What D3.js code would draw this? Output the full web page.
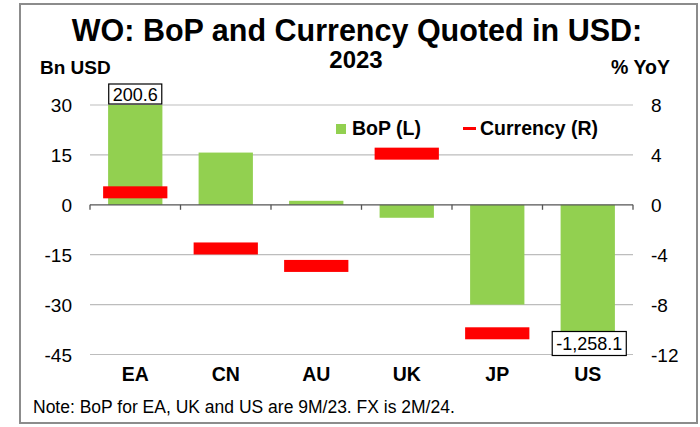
<!DOCTYPE html>
<html>
<head>
<meta charset="utf-8">
<script src="https://cdn.jsdelivr.net/npm/d3@7"></script>
<style>
  body { margin: 0; background: #fff; }
  svg { font-family: "Liberation Sans", Arial, sans-serif; }
</style>
</head>
<body>
<svg width="700" height="427"></svg>
<script>
const categories = ["EA", "CN", "AU", "UK", "JP", "US"]
const bop = [200.6, 15.7, 1.2, -3.9, -30, -1258.1]        // Bn USD (L)
const currency = [1.0, -3.5, -4.9, 4.1, -10.3, null]      // % YoY (R)
const leftTicks = [-45, -30, -15, 0, 15, 30]
const rightTicks = [-12, -8, -4, 0, 4, 8]

const svg = d3.select("svg")

// outer frame
svg.append("rect")
  .attr("x", 20).attr("y", 4)
  .attr("width", 677).attr("height", 419)
  .attr("fill", "none")
  .attr("stroke", "#8c8c8c")
  .attr("stroke-width", 2)

const plot = { left: 90, right: 633, top: 105, bottom: 354.5 }

const x = d3.scaleBand()
  .domain(categories)
  .range([plot.left, plot.right])

const yL = d3.scaleLinear()
  .domain([-45, 30])
  .range([plot.bottom, plot.top])
  .clamp(true) // EA and US are off the scale

const yR = d3.scaleLinear()
  .domain([-12, 8])
  .range([plot.bottom, plot.top])

// gridlines
svg.append("g")
  .selectAll("line")
  .data(leftTicks.filter(d => d !== 0))
  .enter()
  .append("line")
  .attr("x1", plot.left).attr("x2", plot.right)
  .attr("y1", d => yL(d)).attr("y2", d => yL(d))
  .attr("stroke", "#bdbdbd")
  .attr("stroke-width", 1.2)

// left axis labels
svg.append("g")
  .selectAll("text")
  .data(leftTicks)
  .enter()
  .append("text")
  .attr("x", 72)
  .attr("y", d => yL(d) + 7)
  .attr("text-anchor", "end")
  .attr("font-size", 19)
  .text(d => d)

// right axis labels
svg.append("g")
  .selectAll("text")
  .data(rightTicks)
  .enter()
  .append("text")
  .attr("x", 651)
  .attr("y", d => yR(d) + 7)
  .attr("font-size", 19)
  .text(d => d)

// bars
const barW = x.bandwidth() * 0.6
svg.append("g")
  .selectAll("rect")
  .data(bop)
  .enter()
  .append("rect")
  .attr("x", (d, i) => x(categories[i]) + (x.bandwidth() - barW) / 2)
  .attr("y", d => Math.min(yL(d), yL(0)))
  .attr("width", barW)
  .attr("height", d => Math.abs(yL(d) - yL(0)))
  .attr("fill", "#92d050")

// zero axis with ticks at category boundaries
const axisG = svg.append("g")
axisG.append("line")
  .attr("x1", plot.left).attr("x2", plot.right)
  .attr("y1", yL(0)).attr("y2", yL(0))
  .attr("stroke", "#555")
  .attr("stroke-width", 1.3)
axisG.selectAll("line.tick")
  .data(d3.range(categories.length + 1))
  .enter()
  .append("line")
  .attr("class", "tick")
  .attr("x1", i => plot.left + i * x.step())
  .attr("x2", i => plot.left + i * x.step())
  .attr("y1", yL(0)).attr("y2", yL(0) + 5)
  .attr("stroke", "#555")
  .attr("stroke-width", 1.3)

// currency markers
const markW = x.bandwidth() * 0.71
svg.append("g")
  .selectAll("rect")
  .data(currency.map((d, i) => ({ v: d, c: categories[i] })).filter(d => d.v !== null))
  .enter()
  .append("rect")
  .attr("x", d => x(d.c) + (x.bandwidth() - markW) / 2)
  .attr("y", d => yR(d.v) - 6)
  .attr("width", markW)
  .attr("height", 12)
  .attr("fill", "#ff0000")

// value boxes for bars off the scale
const offScale = bop
  .map((d, i) => ({ v: d, c: categories[i] }))
  .filter(d => d.v > 30 || d.v < -45)
const fmt = d3.format(",.1f")
const boxes = svg.append("g")
  .selectAll("g")
  .data(offScale)
  .enter()
  .append("g")
  .attr("transform", d => {
    const cx = x(d.c) + x.bandwidth() / 2 + (d.v > 0 ? 0 : 1.5)
    const cy = d.v > 0 ? yL(30) - 11 : yL(-45) - 11
    return `translate(${cx}, ${cy})`
  })
boxes.append("text")
  .attr("text-anchor", "middle")
  .attr("y", 6.5)
  .attr("font-size", 18)
  .text(d => fmt(d.v).replace("\u2212", "-"))
boxes.each(function (d) {
  const t = d3.select(this).select("text")
  const w = t.node().getComputedTextLength() + 8
  const h = d.v > 0 ? 20 : 24
  d3.select(this).insert("rect", "text")
    .attr("x", -w / 2).attr("y", -h / 2)
    .attr("width", w).attr("height", h)
    .attr("fill", "#fff")
    .attr("stroke", "#000")
    .attr("stroke-width", 1.2)
})

// category labels
svg.append("g")
  .selectAll("text")
  .data(categories)
  .enter()
  .append("text")
  .attr("x", d => x(d) + x.bandwidth() / 2)
  .attr("y", 381)
  .attr("text-anchor", "middle")
  .attr("font-size", 19.5)
  .attr("font-weight", "bold")
  .text(d => d)

// titles
svg.append("text")
  .attr("x", 357).attr("y", 41)
  .attr("text-anchor", "middle")
  .attr("font-size", 30.5)
  .attr("font-weight", "bold")
  .text("WO: BoP and Currency Quoted in USD:")
svg.append("text")
  .attr("x", 356).attr("y", 68)
  .attr("text-anchor", "middle")
  .attr("font-size", 24)
  .attr("font-weight", "bold")
  .text("2023")
svg.append("text")
  .attr("x", 40).attr("y", 74)
  .attr("font-size", 19)
  .attr("font-weight", "bold")
  .text("Bn USD")
svg.append("text")
  .attr("x", 670).attr("y", 74)
  .attr("text-anchor", "end")
  .attr("font-size", 19.5)
  .attr("font-weight", "bold")
  .text("% YoY")

// legend
const legend = svg.append("g")
legend.append("rect")
  .attr("x", 336).attr("y", 124)
  .attr("width", 10).attr("height", 10)
  .attr("fill", "#92d050")
legend.append("text")
  .attr("x", 352).attr("y", 135)
  .attr("font-size", 19.5)
  .attr("font-weight", "bold")
  .text("BoP (L)")
legend.append("rect")
  .attr("x", 463).attr("y", 127)
  .attr("width", 13).attr("height", 3)
  .attr("fill", "#ff0000")
legend.append("text")
  .attr("x", 480).attr("y", 135)
  .attr("font-size", 19.5)
  .attr("font-weight", "bold")
  .text("Currency (R)")

// note
svg.append("text")
  .attr("x", 33).attr("y", 413)
  .attr("font-size", 17.5)
  .text("Note: BoP for EA, UK and US are 9M/23. FX is 2M/24.")
</script>
</body>
</html>
